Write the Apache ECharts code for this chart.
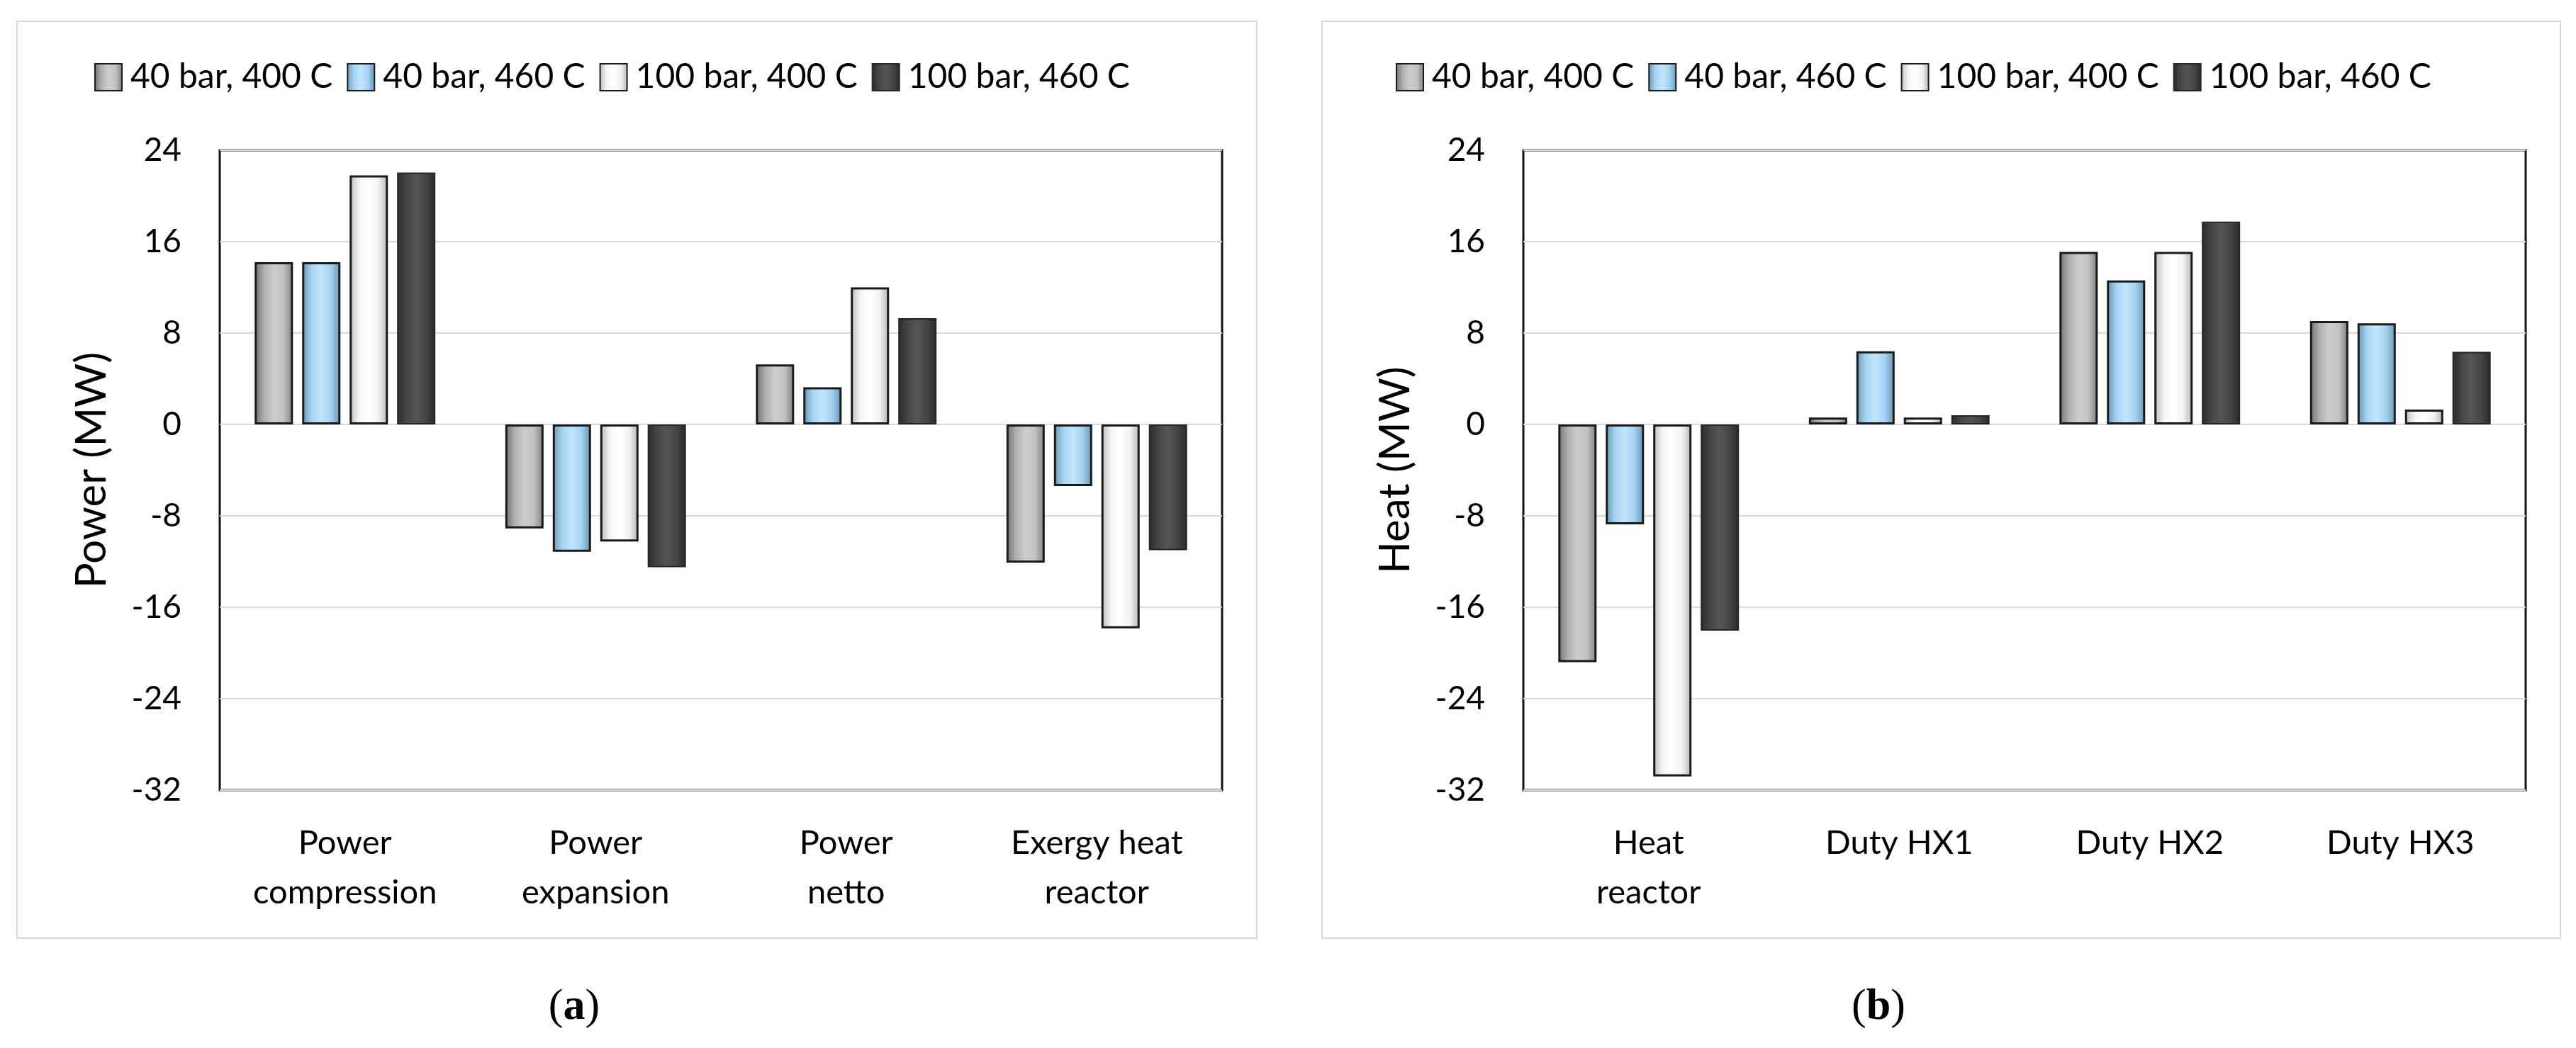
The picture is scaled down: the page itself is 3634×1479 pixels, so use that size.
<!DOCTYPE html>
<html><head><meta charset="utf-8">
<script src="https://cdn.jsdelivr.net/npm/echarts@6/dist/echarts.min.js"></script>
<style>html,body{margin:0;padding:0;background:#fff}#c{width:3634px;height:1479px}</style>
</head><body><div id="c"></div>
<script>
// ---- data ----
const seriesNames = ['40 bar, 400 C', '40 bar, 460 C', '100 bar, 400 C', '100 bar, 460 C'];
const categoriesA = ['Power\ncompression', 'Power\nexpansion', 'Power\nnetto', 'Exergy heat\nreactor'];
const categoriesB = ['Heat\nreactor', 'Duty HX1', 'Duty HX2', 'Duty HX3'];
// Panel (a) Power (MW)
const powerA1 = [14.2, -9.1, 5.25, -12.1];   // 40 bar, 400 C
const powerA2 = [14.2, -11.15, 3.25, -5.4];  // 40 bar, 460 C
const powerA3 = [21.8, -10.25, 12.0, -17.85];// 100 bar, 400 C
const powerA4 = [22.05, -12.5, 9.3, -11.0];  // 100 bar, 460 C
// Panel (b) Heat (MW)
const heatB1 = [-20.8, 0.6, 15.1, 9.05];
const heatB2 = [-8.75, 6.4, 12.6, 8.85];
const heatB3 = [-30.8, 0.6, 15.1, 1.3];
const heatB4 = [-18.05, 0.8, 17.75, 6.35];
// axis ticks
const yMin = -32, yMax = 24, yStep = 8;

const FONT = 'Lato';
function grad(stops) {
  return { type: 'linear', x: 0, y: 0, x2: 1, y2: 0,
    colorStops: stops.map((c, i) => ({ offset: i / (stops.length - 1), color: c })) };
}
const styles = [
  { color: grad(['#6f6f6f', '#b0b0b0', '#cdcdcd', '#c2c2c2', '#7e7e7e']), borderColor: '#1a1a1a', borderWidth: 3 },
  { color: grad(['#6494b5', '#a6d4f2', '#c2e6fb', '#a3d1ef', '#6393b4']), borderColor: '#1a1a1a', borderWidth: 3 },
  { color: grad(['#b8b8b8', '#f5f5f5', '#ffffff', '#f2f2f2', '#b3b3b3']), borderColor: '#1a1a1a', borderWidth: 3 },
  { color: grad(['#2a2a2a', '#464646', '#555555', '#454545', '#282828']), borderColor: '#262626', borderWidth: 2 }
];
const dataA = [powerA1, powerA2, powerA3, powerA4];
const dataB = [heatB1, heatB2, heatB3, heatB4];

function yAxis(idx, name) {
  return {
    gridIndex: idx, type: 'value', min: yMin, max: yMax, interval: yStep,
    name: name, nameLocation: 'middle', nameRotate: 90, nameGap: 150,
    nameTextStyle: { fontSize: 60, fontFamily: FONT, color: '#000' },
    axisLine: { show: false }, axisTick: { show: false },
    axisLabel: { fontSize: 46, fontFamily: FONT, color: '#000', margin: 54 },
    splitLine: { show: true, lineStyle: { color: '#d9d9d9', width: 2 } }
  };
}
function xAxis(idx, cats) {
  return {
    gridIndex: idx, type: 'category', data: cats, position: 'bottom',
    axisLine: { show: false, onZero: false }, axisTick: { show: false },
    axisLabel: { fontSize: 47, fontFamily: FONT, color: '#000', margin: 40, lineHeight: 70, interval: 0 }
  };
}
const series = [];
[dataA, dataB].forEach((d, g) => {
  d.forEach((vals, i) => {
    series.push({
      name: seriesNames[i], type: 'bar', xAxisIndex: g, yAxisIndex: g,
      data: vals, barWidth: 54, barGap: '24%', itemStyle: styles[i]
    });
  });
});
function legend(left) {
  return {
    data: seriesNames, left: left, top: 85, icon: 'rect', itemWidth: 38, itemHeight: 38, itemGap: 20,
    padding: 0, selectedMode: false,
    textStyle: { fontSize: 48, fontFamily: FONT, color: '#000', padding: [0, 0, 0, 7] }
  };
}
const rich = {
  p: { fontSize: 62, fontFamily: 'Liberation Serif', color: '#000' },
  b: { fontSize: 62, fontFamily: 'Liberation Serif', fontWeight: 'bold', color: '#000' }
};
const option = {
  animation: false,
  backgroundColor: '#fff',
  legend: [legend(133), legend(1969)],
  grid: [
    { left: 310, top: 212, width: 1414, height: 903, show: true, borderColor: '#111', borderWidth: 3, backgroundColor: 'transparent' },
    { left: 2149, top: 212, width: 1414, height: 903, show: true, borderColor: '#111', borderWidth: 3, backgroundColor: 'transparent' }
  ],
  xAxis: [xAxis(0, categoriesA), xAxis(1, categoriesB)],
  yAxis: [yAxis(0, 'Power (MW)'), yAxis(1, 'Heat (MW)')],
  series: series,
  graphic: [
    { type: 'rect', shape: { x: 24, y: 30, width: 1749, height: 1294 }, style: { fill: 'none', stroke: '#d9d9d9', lineWidth: 2 }, silent: true, z: -1 },
    { type: 'rect', shape: { x: 1865, y: 30, width: 1747, height: 1294 }, style: { fill: 'none', stroke: '#d9d9d9', lineWidth: 2 }, silent: true, z: -1 },
    { type: 'text', x: 810, y: 1422, style: { text: '{p|(}{b|a}{p|)}', rich: rich, align: 'center', verticalAlign: 'middle', textAlign: 'center', textVerticalAlign: 'middle' } },
    { type: 'text', x: 2650, y: 1422, style: { text: '{p|(}{b|b}{p|)}', rich: rich, align: 'center', verticalAlign: 'middle', textAlign: 'center', textVerticalAlign: 'middle' } }
  ]
};
const chart = echarts.init(document.getElementById('c'), null, { renderer: 'canvas' });
chart.setOption(option);
</script>
</body></html>
